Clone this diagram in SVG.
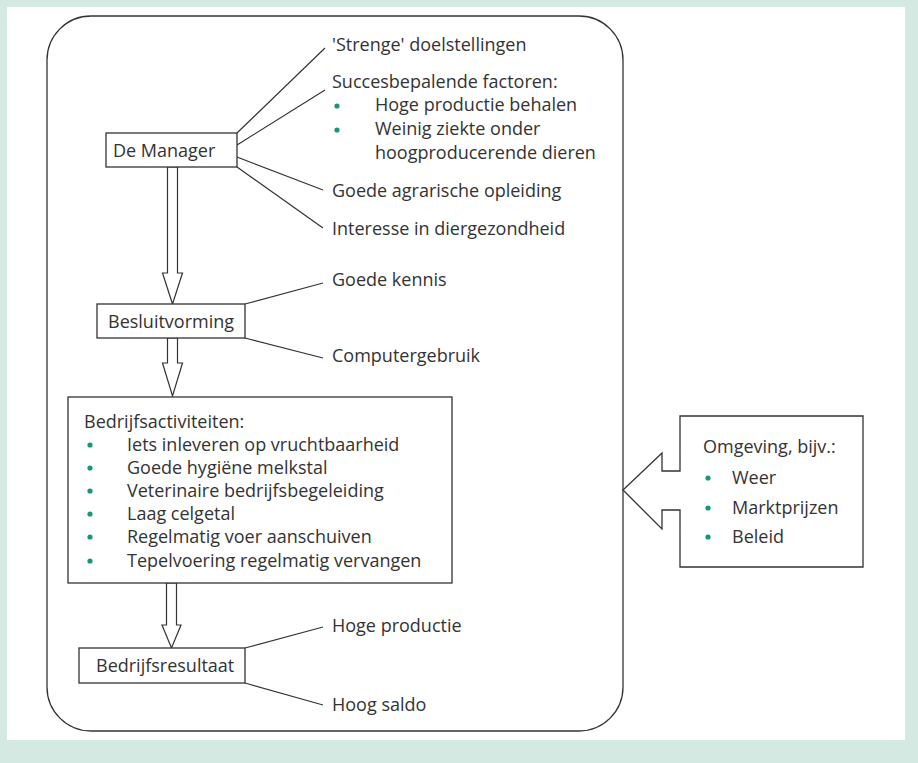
<svg xmlns="http://www.w3.org/2000/svg" width="918" height="763" viewBox="0 0 918 763">
<style>
.bg{fill:#d4e9e1}
.box{fill:#fff;stroke:#333;stroke-width:1.3}
.ln{stroke:#333;stroke-width:1.2;fill:none}
.ar{fill:#fff;stroke:#333;stroke-width:1.2;stroke-linejoin:miter}
text{font-family:"Open Sans","Noto Sans","DejaVu Sans",sans-serif;font-size:18px;fill:#333}
.b{fill:#17967a}
</style>
<rect class="bg" x="0" y="0" width="918" height="763"/>
<rect x="7" y="7" width="898" height="733" fill="#fff"/>
<g id="frame"><rect class="box" x="47" y="16" width="576" height="715" rx="44" ry="44"/></g>
<g id="connectors">
<line class="ln" x1="237" y1="133" x2="325" y2="48"/>
<line class="ln" x1="237" y1="145" x2="325" y2="90"/>
<line class="ln" x1="237" y1="157" x2="323" y2="190"/>
<line class="ln" x1="237" y1="167" x2="323" y2="228"/>
<line class="ln" x1="245" y1="304" x2="323" y2="283"/>
<line class="ln" x1="245" y1="338" x2="323" y2="358"/>
<line class="ln" x1="245" y1="648" x2="323" y2="627"/>
<line class="ln" x1="245" y1="683" x2="323" y2="705"/>
<polygon class="ar" points="167.5,167 167.5,273 162.5,273 172.5,304 182.5,273 177.5,273 177.5,167"/>
<polygon class="ar" points="167.5,338 167.5,363 162.5,363 172.5,396 182.5,363 177.5,363 177.5,338"/>
<polygon class="ar" points="166.5,583 166.5,625 162,625 171.5,648 181,625 176.5,625 176.5,583"/>
</g>
<g id="manager">
<rect class="box" x="106" y="133" width="131" height="34"/>
<text x="113" y="157">De Manager</text>
</g>
<g id="manager-factors">
<text x="332" y="51">'Strenge' doelstellingen</text>
<text x="332" y="88">Succesbepalende factoren:</text>
<circle class="b" cx="337" cy="106" r="2.6"/>
<text x="375" y="111">Hoge productie behalen</text>
<circle class="b" cx="337" cy="130" r="2.6"/>
<text x="375" y="135">Weinig ziekte onder</text>
<text x="375" y="159">hoogproducerende dieren</text>
<text x="332" y="197">Goede agrarische opleiding</text>
<text x="332" y="235">Interesse in diergezondheid</text>
</g>
<g id="besluitvorming">
<rect class="box" x="97" y="304" width="148" height="34"/>
<text x="108" y="328">Besluitvorming</text>
</g>
<g id="besluit-factors">
<text x="332" y="286">Goede kennis</text>
<text x="332" y="362">Computergebruik</text>
</g>
<g id="activiteiten">
<rect class="box" x="68" y="397" width="384" height="186"/>
<text x="84" y="428">Bedrijfsactiviteiten:</text>
<circle class="b" cx="90" cy="445" r="2.6"/><text x="127" y="451">Iets inleveren op vruchtbaarheid</text>
<circle class="b" cx="90" cy="468" r="2.6"/><text x="127" y="474">Goede hygiëne melkstal</text>
<circle class="b" cx="90" cy="491" r="2.6"/><text x="127" y="497">Veterinaire bedrijfsbegeleiding</text>
<circle class="b" cx="90" cy="514" r="2.6"/><text x="127" y="520">Laag celgetal</text>
<circle class="b" cx="90" cy="537" r="2.6"/><text x="127" y="543">Regelmatig voer aanschuiven</text>
<circle class="b" cx="90" cy="561" r="2.6"/><text x="127" y="567">Tepelvoering regelmatig vervangen</text>
</g>
<g id="resultaat">
<rect class="box" x="79" y="648" width="166" height="35"/>
<text x="96" y="672">Bedrijfsresultaat</text>
</g>
<g id="resultaat-factors">
<text x="332" y="632">Hoge productie</text>
<text x="332" y="711">Hoog saldo</text>
</g>
<g id="omgeving">
<polygon class="box" points="680,416 863,416 863,567 680,567 680,510 662,510 662,529 623,490 662,453 662,471 680,471"/>
<text x="703" y="453">Omgeving, bijv.:</text>
<circle class="b" cx="708" cy="478" r="2.6"/><text x="732" y="484">Weer</text>
<circle class="b" cx="708" cy="508" r="2.6"/><text x="732" y="514">Marktprijzen</text>
<circle class="b" cx="708" cy="537" r="2.6"/><text x="732" y="543">Beleid</text>
</g>
</svg>
